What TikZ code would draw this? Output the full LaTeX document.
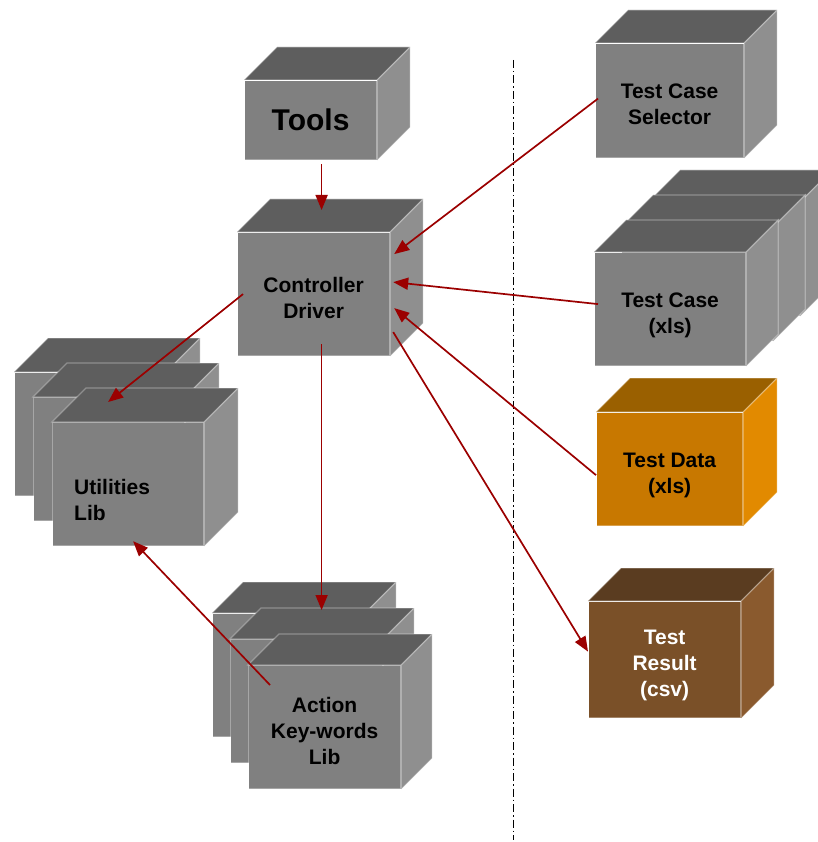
\documentclass[tikz,border=0pt]{standalone}
\usepackage{fontspec}
\setmainfont{Liberation Sans}
\usepackage{tikz}
\usetikzlibrary{arrows.meta}
\usepackage{xcolor}

\definecolor{greyboxfront}{HTML}{808080}
\definecolor{greyboxtop}{HTML}{5E5E5E}
\definecolor{greyboxside}{HTML}{8F8F8F}
\definecolor{databoxfront}{HTML}{C87800}
\definecolor{databoxtop}{HTML}{9A6000}
\definecolor{databoxside}{HTML}{E28A00}
\definecolor{resultboxfront}{HTML}{7A5028}
\definecolor{resultboxtop}{HTML}{5A3C20}
\definecolor{resultboxside}{HTML}{8A5A2E}
\definecolor{linkred}{HTML}{9B0000}

\tikzset{
  face/.style={draw=white, draw opacity=0.3, line width=1.2pt, inner sep=0pt, align=center,
    font=\fontsize{21}{26}\selectfont\bfseries},
  greybox/.style={},
  databox/.style={},
  resultbox/.style={text=white},
  link/.style={linkred, line width=1.7pt, -{Triangle[length=15pt,width=12pt]}},
}

% cube: name, x, y (front top left), width, height, depth, colour set, text
\newcommand{\cubebox}[8]{%
  \node[face, #7, fill=#7front, minimum width=#4pt, minimum height=#5pt, anchor=north west] (#1) at (#2,#3)
     {\raisebox{-6pt}[\height][\depth]{\begin{tabular}{@{}c@{}}#8\end{tabular}}};
  \path[fill=#7top, draw=white, draw opacity=0.3, line width=1.2pt] (#1.north west) -- ++(#6pt,#6pt)
     -- ([shift={(#6pt,#6pt)}]#1.north east) -- (#1.north east) -- cycle;
  \path[fill=#7side, draw=white, draw opacity=0.3, line width=1.2pt] (#1.north east) -- ++(#6pt,#6pt)
     -- ([shift={(#6pt,#6pt)}]#1.south east) -- (#1.south east) -- cycle;
}

\begin{document}
\begin{tikzpicture}[x=1pt,y=-1pt]
\useasboundingbox (0,0) rectangle (817,842);

% separator
\coordinate (septop) at (513,60);
\coordinate (sepbot) at (513,840);
\draw[line width=0.9pt, dash pattern=on 8pt off 3pt on 1.5pt off 3pt] (septop) -- (sepbot);

\cubebox{tools}{244}{80}{132}{79}{33}{greybox}{\fontsize{30}{36}\selectfont\raisebox{6pt}{Tools}}
\cubebox{ctrl}{237}{232}{152}{123}{33}{greybox}{Controller\\Driver}

% utilities stack
\cubebox{util3}{14}{372}{151}{123}{34}{greybox}{}
\cubebox{util2}{33}{397}{151}{123}{34}{greybox}{}
\cubebox{util}{52}{422}{151}{123}{34}{greybox}{}
\node[anchor=west, align=left, inner sep=0pt, font=\fontsize{21}{26}\selectfont\bfseries] (utiltext) at (74,500) {Utilities\\Lib};

% action stack
\cubebox{act3}{212}{613}{152}{123}{31}{greybox}{}
\cubebox{act2}{230}{639}{152}{123}{31}{greybox}{}
\cubebox{act}{248}{665}{152}{123}{31}{greybox}{Action\\Key-words\\Lib}

% right side
\cubebox{sel}{595}{43}{148}{114}{33}{greybox}{Test Case\\Selector}
\cubebox{tcase3}{648}{202}{151}{113}{32}{greybox}{}
\cubebox{tcase2}{621}{227}{151}{113}{32}{greybox}{}
\cubebox{tcase}{594}{252}{151}{113}{32}{greybox}{Test Case\\(xls)}
\cubebox{tdata}{596}{412}{146}{113}{34}{databox}{Test Data\\(xls)}
\cubebox{tres}{588}{601}{152}{116}{33}{resultbox}{Test\\Result\\(csv)}

% links
\draw[link] ([shift={(11pt,-4pt)}]tools.south) -- ([shift={(8pt,22pt)}]ctrl.north);
\draw[link] ([shift={(3pt,2pt)}]sel.west) -- ([shift={(4pt,40pt)}]ctrl.east);
\draw[link] ([shift={(4pt,5pt)}]tcase.west) -- ([shift={(3pt,12pt)}]ctrl.east);
\draw[link] ([shift={(0pt,-6pt)}]tdata.west) -- ([shift={(4pt,-14pt)}]ctrl.east);
\draw[link] ([shift={(3pt,-38pt)}]ctrl.east) -- ([shift={(0pt,8pt)}]tres.west);
\draw[link] ([shift={(6pt,0pt)}]ctrl.west) -- ([shift={(-20pt,20pt)}]util.north);
\draw[link] ([shift={(8pt,12pt)}]ctrl.south) -- ([shift={(33pt,3pt)}]act3.north);
\draw[link] ([shift={(22pt,-20pt)}]act.north west) -- ([shift={(5pt,5pt)}]util.south);

\end{tikzpicture}
\end{document}
